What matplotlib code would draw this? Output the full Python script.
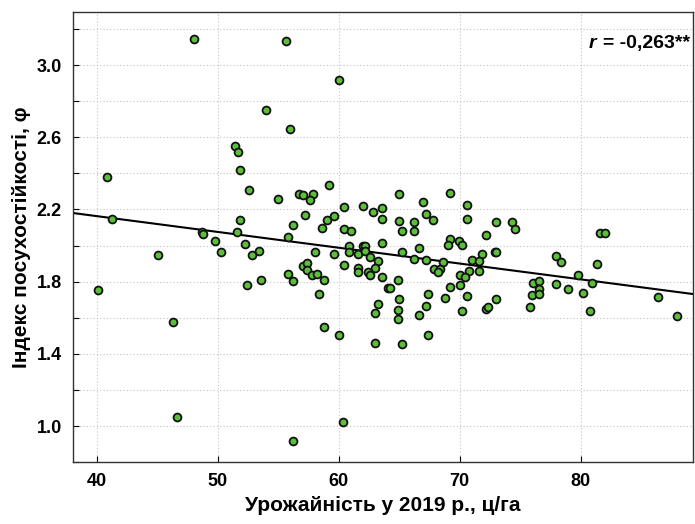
import matplotlib
matplotlib.use("Agg")
import matplotlib.pyplot as plt
from matplotlib import font_manager
import numpy as np

yield_2019 = [48.0, 55.6, 60.0, 54.0, 56.0, 51.4, 51.65, 51.8, 40.8, 52.6, 55.0, 56.7, 57.0, 57.9,
              57.6, 59.2, 60.4, 62.0, 62.8, 63.6, 63.6, 41.2, 51.8, 57.2, 56.2, 59.0, 59.6, 58.6,
              60.4, 61.0, 48.65, 48.8, 51.6, 55.8,
              65.0, 69.2, 67.0, 70.6, 65.0, 66.2, 67.2, 67.8, 70.6, 73.0, 74.35, 74.6, 65.2, 66.2,
              72.2, 81.6, 82.0,
              49.75, 50.25, 52.2, 52.8, 53.4, 45.0, 63.6, 60.8, 60.8, 62.0, 62.2, 59.6, 58.0, 61.6,
              62.2, 62.6, 63.25, 60.4, 61.6, 61.6, 62.4, 62.6, 63.0, 63.6, 64.1, 57.0, 57.4, 57.4,
              57.8, 58.2, 58.8, 55.8, 56.2, 58.35, 53.6, 52.4, 40.05, 46.25, 58.8, 60.0, 63.25,
              63.0, 63.0, 46.6, 60.35, 56.2,
              69.2, 69.0, 69.95, 70.2, 66.6, 65.2, 66.2, 67.2, 68.6, 67.9, 68.4, 68.2, 71.85, 71.0,
              71.6, 72.9, 73.0, 70.8, 71.6, 70.0, 70.4, 70.0, 69.2, 70.6, 73.0, 72.2, 72.35, 70.2,
              64.9, 64.25, 65.0, 67.4, 67.2, 68.8, 64.9, 64.9, 66.6, 67.4, 65.2,
              77.95, 78.35, 79.8, 81.35, 80.95, 76.1, 76.6, 76.6, 76.0, 76.6, 75.85, 77.95, 79.0,
              80.2, 80.8, 86.4, 87.95]
drought_index = [3.146, 3.135, 2.92, 2.75, 2.645, 2.55, 2.52, 2.42, 2.38, 2.306, 2.258, 2.287, 2.28, 2.284,
                 2.254, 2.334, 2.213, 2.219, 2.184, 2.21, 2.147, 2.147, 2.141, 2.167, 2.115, 2.141, 2.162, 2.095,
                 2.09, 2.082, 2.076, 2.064, 2.073, 2.045,
                 2.284, 2.293, 2.24, 2.224, 2.137, 2.128, 2.176, 2.143, 2.149, 2.132, 2.128, 2.09, 2.079, 2.082,
                 2.058, 2.071, 2.071,
                 2.023, 1.966, 2.007, 1.946, 1.971, 1.946, 2.014, 1.997, 1.964, 2.0, 2.0, 1.951, 1.962, 1.951,
                 1.969, 1.936, 1.916, 1.89, 1.874, 1.855, 1.855, 1.836, 1.874, 1.827, 1.766, 1.885, 1.903, 1.864,
                 1.836, 1.844, 1.807, 1.844, 1.802, 1.731, 1.807, 1.781, 1.755, 1.574, 1.55, 1.503, 1.674,
                 1.626, 1.46, 1.048, 1.022, 0.915,
                 2.036, 2.001, 2.025, 2.001, 1.988, 1.964, 1.925, 1.92, 1.91, 1.87, 1.871, 1.851, 1.951, 1.92,
                 1.913, 1.967, 1.967, 1.858, 1.857, 1.838, 1.827, 1.781, 1.77, 1.718, 1.704, 1.646, 1.657, 1.637,
                 1.807, 1.765, 1.704, 1.731, 1.663, 1.707, 1.641, 1.595, 1.615, 1.503, 1.454,
                 1.942, 1.909, 1.837, 1.9, 1.791, 1.791, 1.805, 1.759, 1.724, 1.73, 1.661, 1.787, 1.761,
                 1.735, 1.637, 1.713, 1.61]

fit_intercept = 2.513
fit_slope = -0.00875

x_ticks = [40, 50, 60, 70, 80]
y_ticks = [1.0, 1.4, 1.8, 2.2, 2.6, 3.0]
x_label = "Урожайність у 2019 р., ц/га"
y_label = "Індекс посухостійкості, φ"
r_text = "= -0,263**"

names = {f.name for f in font_manager.fontManager.ttflist}
fam = ["Liberation Sans Narrow"] if "Liberation Sans Narrow" in names else []
fam += ["Liberation Sans", "DejaVu Sans"]
plt.rcParams["font.family"] = fam

fig = plt.figure(figsize=(6.95, 5.24), dpi=100)
ax = fig.add_axes([0.105, 0.118, 0.892, 0.859])

xlim = (38.0, 89.3)
ax.set_xlim(*xlim)
ax.set_ylim(0.80, 3.294)

ax.set_xticks(x_ticks)
ax.set_yticks(y_ticks)
ax.set_yticks(np.arange(0.8, 3.3, 0.2), minor=True)
ax.set_xticklabels([str(t) for t in x_ticks], fontsize=13, fontweight="bold")
ax.set_yticklabels([f"{t:.1f}" for t in y_ticks], fontsize=13, fontweight="bold")
ax.tick_params(direction="in", length=4, width=0.8, pad=8)
ax.tick_params(which="minor", direction="in", length=4, width=0.8)
ax.grid(True, which="major", axis="x", linestyle=(0, (1, 2)), color="#c4c4c4", linewidth=0.8)
ax.grid(True, which="both", axis="y", linestyle=(0, (1, 2)), color="#c4c4c4", linewidth=0.8)
ax.set_axisbelow(True)

xs = np.array(xlim)
ax.plot(xs, fit_intercept + fit_slope * xs, color="black", linewidth=1.5, zorder=2)

ax.scatter(yield_2019, drought_index, s=32, facecolor="#5cbf3a", edgecolor="#111111",
           linewidth=1.3, zorder=3)

for s in ax.spines.values():
    s.set_linewidth(1.0)
    s.set_color("#333333")

ax.set_xlabel(x_label, fontsize=15, fontweight="bold", labelpad=4)
ax.set_ylabel(y_label, fontsize=15, fontweight="bold", labelpad=4)

t1 = ax.text(0.996, 0.93, r_text, transform=ax.transAxes, ha="right", va="center",
             fontsize=14, fontweight="bold")
ax.annotate("r", xy=(0, 0.5), xycoords=t1, xytext=(-5, 0), textcoords="offset points",
            ha="right", va="center", fontsize=14, fontweight="bold", style="italic")

fig.savefig("out.png", dpi=100)
